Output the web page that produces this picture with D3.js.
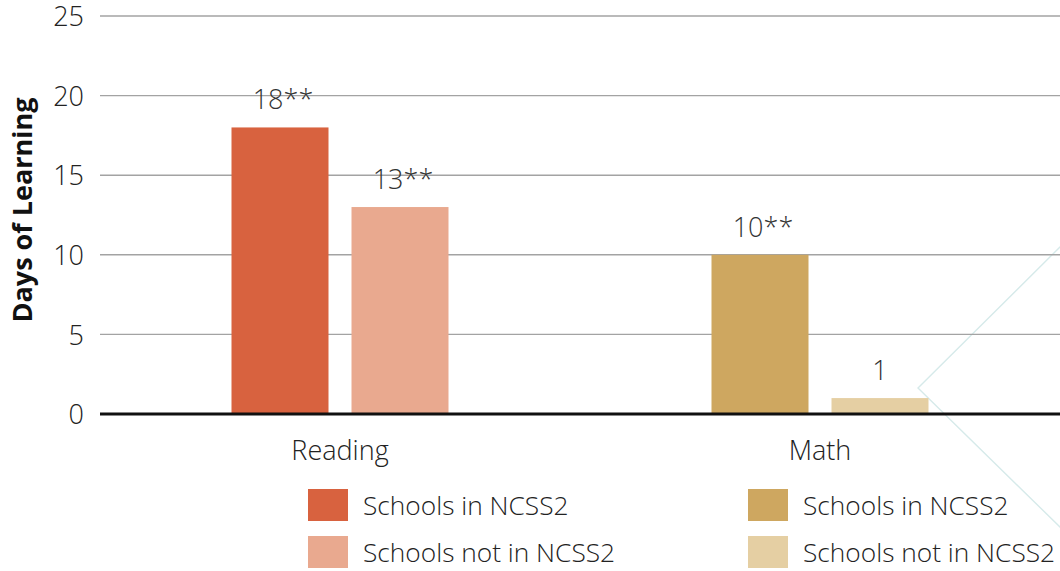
<!DOCTYPE html>
<html>
<head>
<meta charset="utf-8">
<script src="https://cdn.jsdelivr.net/npm/d3@7"></script>
<style>
  html, body { margin: 0; padding: 0; background: #fff; }
  svg { display: block; font-family: "Open Sans", sans-serif; }
</style>
</head>
<body>
<svg id="chart" width="1060" height="571"></svg>
<script>
// Subjects on the x axis
const subjects = ["Reading", "Math"];
// Groups compared within each subject
const groups = ["Schools in NCSS2", "Schools not in NCSS2"];
// Days of learning per subject, one value per group
const readingValues = [18, 13];
const mathValues = [10, 1];
// Significance markers appended to each value label
const readingMarks = ["**", "**"];
const mathMarks = ["**", ""];
// Y-axis ticks
const yTicks = [0, 5, 10, 15, 20, 25];
// Palette per subject: [in NCSS2, not in NCSS2]
const readingColors = ["#D8623F", "#E9A98F"];
const mathColors = ["#CEA760", "#E5CFA3"];

const rows = [
  { subject: subjects[0], values: readingValues, marks: readingMarks, colors: readingColors },
  { subject: subjects[1], values: mathValues, marks: mathMarks, colors: mathColors }
];

const svg = d3.select("#chart");
const plot = { left: 100, right: 1060, top: 16, bottom: 414 };
const pairWidth = 217;

// Decorative chevron outline at the right edge
svg.append("polyline")
  .attr("points", "1062,245 918,388 1062,529")
  .attr("fill", "none")
  .attr("stroke", "#d6eaea")
  .attr("stroke-width", 1.4);

const y = d3.scaleLinear().domain([0, 25]).range([plot.bottom, plot.top]);
const x0 = d3.scaleBand().domain(subjects).range([plot.left, plot.right]);
const x1 = d3.scaleBand().domain(groups).range([0, pairWidth]).paddingInner(23 / 120);

// Gridlines
svg.append("g")
  .selectAll("line")
  .data(yTicks.filter(t => t > 0))
  .join("line")
  .attr("x1", plot.left).attr("x2", plot.right)
  .attr("y1", d => y(d)).attr("y2", d => y(d))
  .attr("stroke", "#a3a3a3")
  .attr("stroke-width", 1.4);

// Y axis tick labels
const yAxis = d3.axisLeft(y).tickValues(yTicks).tickSize(0).tickPadding(0);
const gy = svg.append("g").attr("transform", "translate(84,0)").call(yAxis);
gy.select(".domain").remove();
gy.selectAll("text")
  .attr("font-family", "Open Sans")
  .attr("font-weight", 300)
  .attr("font-size", 27)
  .attr("fill", "#222")
  .attr("dy", "0.36em");

// Y axis title
svg.append("text")
  .attr("transform", "translate(32,210) rotate(-90)")
  .attr("text-anchor", "middle")
  .attr("font-weight", 700)
  .attr("font-size", 27)
  .attr("fill", "#111")
  .text("Days of Learning");

// Bars and value labels
const cat = svg.append("g").selectAll("g")
  .data(rows)
  .join("g")
  .attr("transform", d => `translate(${x0(d.subject) + x0.bandwidth() / 2 - pairWidth / 2},0)`);

cat.selectAll("rect")
  .data(d => d.values.map((v, i) => ({ v, i, color: d.colors[i] })))
  .join("rect")
  .attr("x", d => x1(groups[d.i]))
  .attr("width", x1.bandwidth())
  .attr("y", d => y(d.v))
  .attr("height", d => y(0) - y(d.v))
  .attr("fill", d => d.color);

cat.selectAll("text.value")
  .data(d => d.values.map((v, i) => ({ v, i, mark: d.marks[i] })))
  .join("text")
  .attr("class", "value")
  .attr("x", d => x1(groups[d.i]) + x1.bandwidth() / 2 + (d.mark ? 3 : 0))
  .attr("y", d => y(d.v) - 18)
  .attr("text-anchor", "middle")
  .attr("font-weight", 300)
  .attr("font-size", 27)
  .attr("fill", "#333")
  .text(d => d.v + d.mark);

// Zero baseline
svg.append("line")
  .attr("x1", plot.left).attr("x2", plot.right)
  .attr("y1", y(0)).attr("y2", y(0))
  .attr("stroke", "#111")
  .attr("stroke-width", 3);

// Category labels
const xAxis = d3.axisBottom(x0).tickSize(0).tickPadding(0);
const gx = svg.append("g").attr("transform", "translate(0,460)").call(xAxis);
gx.select(".domain").remove();
gx.selectAll("text")
  .attr("font-family", "Open Sans")
  .attr("font-weight", 300)
  .attr("font-size", 27)
  .attr("fill", "#222")
  .attr("dy", 0);

// Legend: one column per subject
const legendX = [308, 748];
rows.forEach((r, ci) => {
  const lg = svg.append("g").attr("transform", `translate(${legendX[ci]},489)`);
  groups.forEach((g, gi) => {
    lg.append("rect")
      .attr("x", 0).attr("y", gi * 47)
      .attr("width", 40).attr("height", 32)
      .attr("fill", r.colors[gi]);
    lg.append("text")
      .attr("x", 55).attr("y", gi * 47 + 26)
      .attr("font-weight", 300)
      .attr("font-size", 26.3)
      .attr("fill", "#222")
      .text(g);
  });
});
</script>
</body>
</html>
